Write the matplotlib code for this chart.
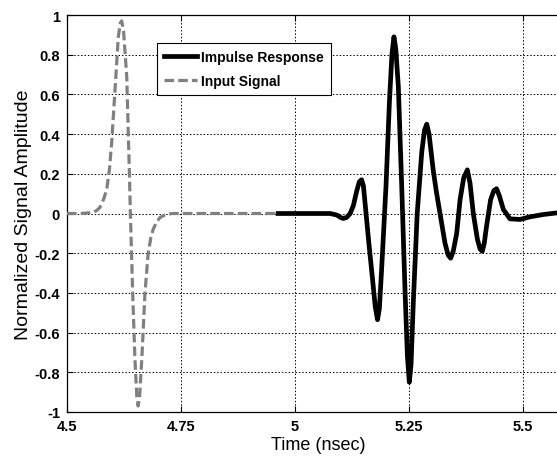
import matplotlib
matplotlib.use('Agg')
import matplotlib.pyplot as plt

plt.rcParams['font.family'] = ['Liberation Sans', 'DejaVu Sans']

# Input signal (gray dashed)
input_time = [4.500, 4.530, 4.557, 4.565, 4.572, 4.580, 4.587, 4.593, 4.598,
              4.605, 4.6125, 4.617, 4.620, 4.624, 4.631, 4.637, 4.639, 4.644,
              4.649, 4.653, 4.656, 4.659, 4.664, 4.671, 4.678, 4.684, 4.689,
              4.696, 4.704, 4.715, 4.730, 4.800, 4.900, 4.963]
input_amp = [0.0, 0.0, 0.005, 0.015, 0.03, 0.07, 0.12, 0.22, 0.36,
             0.61, 0.89, 0.96, 0.97, 0.92, 0.69, 0.19, 0.0, -0.40,
             -0.735, -0.92, -0.97, -0.93, -0.735, -0.40, -0.20, -0.12, -0.08,
             -0.045, -0.02, -0.007, 0.0, 0.0, 0.0, 0.0]

# Impulse response (black solid)
resp_time = [4.963, 5.000, 5.050, 5.077, 5.092, 5.100, 5.106, 5.113, 5.121,
             5.128, 5.135, 5.141, 5.146, 5.150, 5.155, 5.162, 5.170, 5.176,
             5.181, 5.185, 5.190, 5.1996, 5.207, 5.2125, 5.217, 5.221, 5.2266,
             5.234, 5.241, 5.2465, 5.2507, 5.2545, 5.2594, 5.268, 5.278, 5.284,
             5.289, 5.294, 5.303, 5.310, 5.318, 5.329, 5.336, 5.3414, 5.347,
             5.3546, 5.362, 5.370, 5.378, 5.384, 5.391, 5.400, 5.406, 5.4108,
             5.415, 5.420, 5.429, 5.436, 5.442, 5.448, 5.457, 5.4715, 5.4934,
             5.515, 5.5445, 5.574, 5.600]
resp_amp = [0.0, 0.0, 0.0, 0.0, -0.008, -0.02, -0.025, -0.02, 0.0,
            0.04, 0.11, 0.16, 0.17, 0.14, 0.02, -0.15, -0.33, -0.47,
            -0.535, -0.48, -0.28, 0.14, 0.56, 0.80, 0.89, 0.83, 0.64,
            0.14, -0.37, -0.72, -0.85, -0.76, -0.45, 0.0, 0.31, 0.42,
            0.45, 0.40, 0.22, 0.11, 0.0, -0.15, -0.21, -0.225, -0.19,
            -0.10, 0.07, 0.18, 0.22, 0.15, 0.0, -0.13, -0.18, -0.19,
            -0.15, -0.065, 0.07, 0.115, 0.125, 0.09, 0.02, -0.027, -0.03,
            -0.017, -0.005, 0.003, 0.003]

x_ticks = [4.5, 4.75, 5, 5.25, 5.5]
x_tick_labels = ['4.5', '4.75', '5', '5.25', '5.5']
y_ticks = [-1, -0.8, -0.6, -0.4, -0.2, 0, 0.2, 0.4, 0.6, 0.8, 1]
y_tick_labels = ['-1', '-0.8', '-0.6', '-0.4', '-0.2', '0', '0.2', '0.4', '0.6', '0.8', '1']

W, H = 557, 460
fig = plt.figure(figsize=(W / 100, H / 100), dpi=100)
# axes runs past the right edge of the figure, like the cropped original
ax = fig.add_axes([67 / W, (H - 413) / H, 501.6 / W, 397 / H])

ax.plot(resp_time, resp_amp, color='black', linewidth=3.4, label='Impulse Response',
        solid_joinstyle='round', zorder=3)
ax.plot(input_time, input_amp, color='#808080', linewidth=2.3, linestyle=(0, (3, 1.3)),
        label='Input Signal', zorder=3)

ax.set_xlim(4.5, 5.6)
ax.set_ylim(-1, 1)
ax.set_xticks(x_ticks)
ax.set_xticklabels(x_tick_labels, fontweight='bold', fontsize=10.5)
ax.set_yticks(y_ticks)
ax.set_yticklabels(y_tick_labels, fontweight='bold', fontsize=10.5)
ax.tick_params(direction='in', length=4, width=0.8, top=True, right=True, pad=5)

ax.grid(True, color='black', linestyle=(0, (1.5, 2)), linewidth=0.7)
for side in ['left', 'bottom', 'top', 'right']:
    ax.spines[side].set_linewidth(0.9)

ax.set_xlabel('Time (nsec)', fontsize=13, labelpad=2)
ax.set_ylabel('Normalized Signal Amplitude', fontsize=14, labelpad=2)

leg = ax.legend(loc='upper left', bbox_to_anchor=(0.179, 0.929), fancybox=False,
                edgecolor='black', framealpha=1, prop={'weight': 'bold', 'size': 10},
                handlelength=2.4, borderpad=0.5, labelspacing=0.7, handletextpad=0.3,
                borderaxespad=0)
leg.get_frame().set_linewidth(0.8)

fig.savefig('out.png', dpi=100)
